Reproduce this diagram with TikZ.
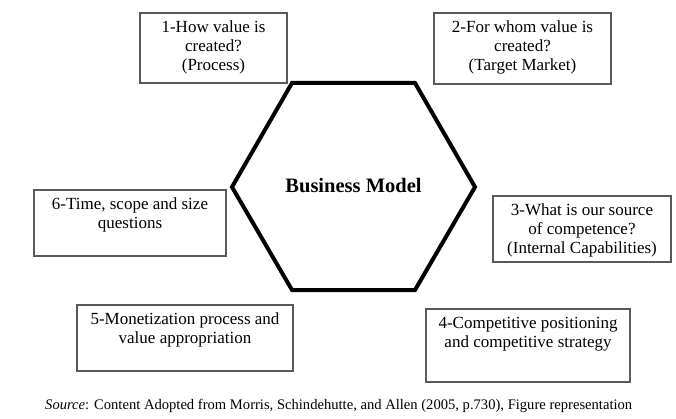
\documentclass[tikz,border=0pt]{standalone}
\usepackage{fontspec}
\setmainfont{Liberation Serif}
\tikzset{
  qbox/.style={draw=black!65, line width=1.1pt, inner sep=0pt, fill=white},
  hexline/.style={draw=black, line width=4pt, line join=miter},
  boxfont/.style={font=\fontsize{17}{19}\selectfont},
}
\newcommand{\boxtext}[3]{\parbox[c][#2pt][t]{#1pt}{\centering\vspace*{6.5pt}\strut #3}}
\begin{document}
\begin{tikzpicture}[x=1pt,y=-1pt]
\useasboundingbox[fill=white] (0,0) rectangle (676,419);
% hexagon
\coordinate (h1) at (292,83);
\coordinate (h2) at (415,83);
\coordinate (h3) at (475,187);
\coordinate (h4) at (415,290);
\coordinate (h5) at (292,290);
\coordinate (h6) at (232,187);
\draw[hexline] (h1) -- (h2) -- (h3) -- (h4) -- (h5) -- (h6) -- cycle;
\node[font=\fontsize{20.5}{24}\selectfont\bfseries] (bm) at (353.5,186) {Business Model};
% boxes
\node[qbox, boxfont] (b1) at (213.5,48) {\boxtext{147}{70}{1-How value is\\created?\\(Process)}};
\node[qbox, boxfont] (b2) at (522.5,48.5) {\boxtext{177}{71}{2-For whom value is\\created?\\(Target Market)}};
\node[qbox, boxfont] (b3) at (582,229) {\boxtext{178}{66}{3-What is our source\\of competence?\\(Internal Capabilities)}};
\node[qbox, boxfont] (b4) at (528,345.5) {\boxtext{204}{73}{4-Competitive positioning\\and competitive strategy}};
\node[qbox, boxfont] (b5) at (185,338) {\boxtext{216}{66}{5-Monetization process and\\value appropriation}};
\node[qbox, boxfont] (b6) at (130,223) {\boxtext{192}{66}{6-Time, scope and size\\questions}};
% source
\node[anchor=base west, inner sep=0pt, font=\fontsize{14.6}{16}\selectfont] (src) at (45,409) {\textit{Source}: Content Adopted from Morris, Schindehutte, and Allen (2005, p.730), Figure representation};
\end{tikzpicture}
\end{document}
